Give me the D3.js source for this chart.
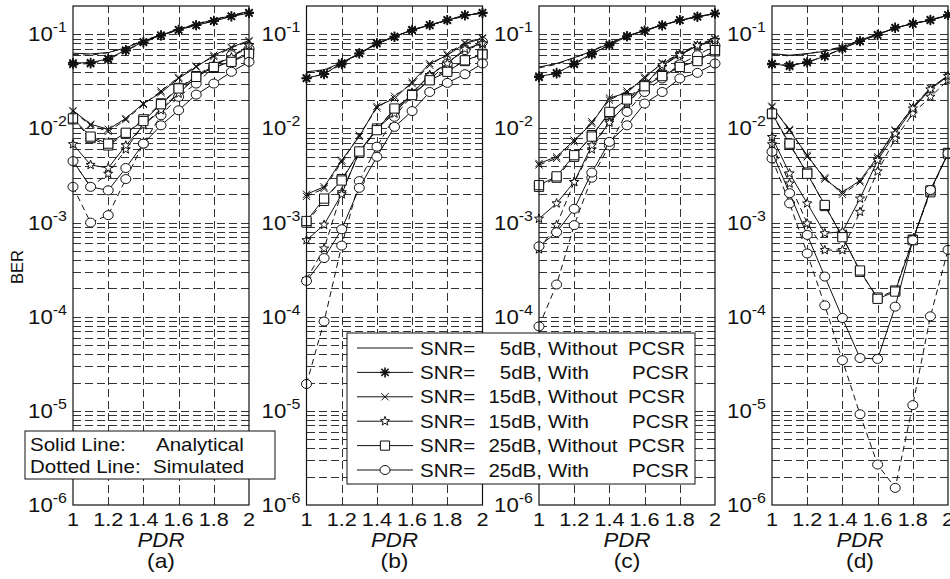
<!DOCTYPE html>
<html>
<head>
<meta charset="utf-8">
<script src="https://cdn.jsdelivr.net/npm/d3@7"></script>
<style>
  body { margin: 0; background: #fff; }
  svg { display: block; }
</style>
</head>
<body>
<svg id="chart" width="950" height="579"></svg>
<script>
// ---------- data ----------
const pdr = [1.0, 1.1, 1.2, 1.3, 1.4, 1.5, 1.6, 1.7, 1.8, 1.9, 2.0];
const xTickValues = [1, 1.2, 1.4, 1.6, 1.8, 2];
const xTickLabels = ["1", "1.2", "1.4", "1.6", "1.8", "2"];
const yDecades = [1e-6, 1e-5, 1e-4, 1e-3, 1e-2, 1e-1];
const yExponents = ["-6", "-5", "-4", "-3", "-2", "-1"];
const panelLabels = ["(a)", "(b)", "(c)", "(d)"];

// legend rows: SNR, PCSR state
const legendSnr = ["5dB,", "5dB,", "15dB,", "15dB,", "25dB,", "25dB,"];
const legendMode = ["Without", "With", "Without", "With", "Without", "With"];
const legendMarkers = ["none", "asterisk", "cross", "pentagram", "square", "circle"];

// series order in every panel: 5dB w/o, 5dB with, 15dB w/o, 15dB with, 25dB w/o, 25dB with
// panel (a) analytical
const a_ana_5_wo  = [0.063, 0.062, 0.064, 0.072, 0.085, 0.098, 0.113, 0.128, 0.143, 0.158, 0.175];
const a_ana_5_w   = [0.0497, 0.050, 0.055, 0.068, 0.083, 0.098, 0.112, 0.125, 0.138, 0.155, 0.168];
const a_ana_15_wo = [0.0155, 0.0111, 0.0098, 0.0128, 0.0184, 0.024, 0.034, 0.045, 0.060, 0.073, 0.086];
const a_ana_15_w  = [0.0068, 0.0041, 0.0038, 0.0066, 0.0108, 0.0156, 0.0235, 0.035, 0.047, 0.057, 0.076];
const a_ana_25_wo = [0.0128, 0.0082, 0.0069, 0.0090, 0.0120, 0.0181, 0.0266, 0.0353, 0.045, 0.051, 0.062];
const a_ana_25_w  = [0.0045, 0.0024, 0.0022, 0.0038, 0.0069, 0.0108, 0.0156, 0.0229, 0.030, 0.040, 0.051];
// panel (a) simulated
const a_sim_5_wo  = [0.061, 0.060, 0.064, 0.073, 0.086, 0.099, 0.114, 0.129, 0.144, 0.159, 0.176];
const a_sim_5_w   = [0.048, 0.049, 0.054, 0.067, 0.082, 0.097, 0.111, 0.125, 0.139, 0.156, 0.170];
const a_sim_15_wo = [0.0152, 0.0108, 0.0093, 0.0124, 0.018, 0.025, 0.035, 0.046, 0.058, 0.072, 0.084];
const a_sim_15_w  = [0.0045, 0.0024, 0.0033, 0.0060, 0.0110, 0.016, 0.024, 0.036, 0.048, 0.058, 0.077];
const a_sim_25_wo = [0.0125, 0.0079, 0.0066, 0.0088, 0.0125, 0.0185, 0.027, 0.036, 0.044, 0.052, 0.064];
const a_sim_25_w  = [0.0024, 0.0010, 0.0012, 0.0029, 0.0069, 0.0138, 0.0217, 0.030, 0.045, 0.060, 0.070];

// panel (b) analytical
const b_ana_5_wo  = [0.040, 0.042, 0.050, 0.063, 0.080, 0.094, 0.112, 0.125, 0.141, 0.159, 0.168];
const b_ana_5_w   = [0.0344, 0.0377, 0.0496, 0.0624, 0.0797, 0.0937, 0.112, 0.1246, 0.141, 0.159, 0.168];
const b_ana_15_wo = [0.0020, 0.0024, 0.0046, 0.0082, 0.0172, 0.0208, 0.0312, 0.049, 0.060, 0.080, 0.090];
const b_ana_15_w  = [0.00065, 0.00095, 0.0020, 0.0057, 0.010, 0.0144, 0.0235, 0.0367, 0.049, 0.070, 0.080];
const b_ana_25_wo = [0.00104, 0.0018, 0.0028, 0.0057, 0.0096, 0.0163, 0.0226, 0.0325, 0.040, 0.053, 0.061];
const b_ana_25_w  = [0.00024, 0.00042, 0.00085, 0.00234, 0.0050, 0.0104, 0.0153, 0.0244, 0.0305, 0.0377, 0.049];
// panel (b) simulated
const b_sim_5_wo  = [0.039, 0.041, 0.049, 0.062, 0.079, 0.095, 0.111, 0.126, 0.140, 0.157, 0.170];
const b_sim_5_w   = [0.034, 0.038, 0.048, 0.063, 0.081, 0.095, 0.110, 0.126, 0.142, 0.160, 0.170];
const b_sim_15_wo = [0.0019, 0.0023, 0.0044, 0.0085, 0.0165, 0.022, 0.030, 0.047, 0.062, 0.082, 0.092];
const b_sim_15_w  = [0.00025, 0.00053, 0.0021, 0.0055, 0.0098, 0.015, 0.024, 0.037, 0.050, 0.068, 0.079];
const b_sim_25_wo = [0.0010, 0.0017, 0.0029, 0.0055, 0.0100, 0.0160, 0.0230, 0.0330, 0.042, 0.052, 0.062];
const b_sim_25_w  = [1.93e-5, 8.9e-5, 0.00057, 0.00276, 0.0064, 0.0133, 0.0226, 0.033, 0.049, 0.068, 0.083];

// panel (c) analytical
const c_ana_5_wo  = [0.045, 0.049, 0.0566, 0.066, 0.080, 0.096, 0.110, 0.125, 0.141, 0.153, 0.166];
const c_ana_5_w   = [0.0359, 0.0383, 0.049, 0.0624, 0.0764, 0.095, 0.110, 0.125, 0.141, 0.153, 0.166];
const c_ana_15_wo = [0.00425, 0.0050, 0.0075, 0.0113, 0.0211, 0.0239, 0.0353, 0.049, 0.061, 0.076, 0.088];
const c_ana_15_w  = [0.0011, 0.0016, 0.0027, 0.0066, 0.0115, 0.0187, 0.0288, 0.047, 0.060, 0.076, 0.086];
const c_ana_25_wo = [0.0025, 0.0031, 0.0052, 0.0082, 0.015, 0.0203, 0.0281, 0.036, 0.045, 0.052, 0.068];
const c_ana_25_w  = [0.00056, 0.00079, 0.0014, 0.0034, 0.0072, 0.0108, 0.0184, 0.0244, 0.034, 0.039, 0.049];
// panel (c) simulated
const c_sim_5_wo  = [0.044, 0.048, 0.056, 0.067, 0.081, 0.095, 0.111, 0.126, 0.140, 0.154, 0.168];
const c_sim_5_w   = [0.035, 0.039, 0.048, 0.061, 0.078, 0.096, 0.109, 0.124, 0.142, 0.155, 0.167];
const c_sim_15_wo = [0.0041, 0.0048, 0.0072, 0.0118, 0.0200, 0.0250, 0.0340, 0.050, 0.062, 0.078, 0.090];
const c_sim_15_w  = [0.00052, 0.00094, 0.0027, 0.0060, 0.0120, 0.0180, 0.0290, 0.045, 0.062, 0.074, 0.087];
const c_sim_25_wo = [0.0024, 0.0030, 0.0050, 0.0085, 0.0145, 0.021, 0.029, 0.037, 0.046, 0.054, 0.066];
const c_sim_25_w  = [7.9e-5, 0.00022, 0.00094, 0.0030, 0.0066, 0.015, 0.0244, 0.034, 0.048, 0.060, 0.076];

// panel (d) analytical
const d_ana_5_wo  = [0.0624, 0.060, 0.0624, 0.066, 0.073, 0.087, 0.100, 0.117, 0.130, 0.141, 0.160];
const d_ana_5_w   = [0.0489, 0.0458, 0.0509, 0.0584, 0.0705, 0.0843, 0.099, 0.117, 0.130, 0.141, 0.160];
const d_ana_15_wo = [0.0172, 0.0095, 0.0052, 0.0029, 0.0021, 0.0028, 0.0050, 0.0096, 0.0167, 0.0266, 0.0367];
const d_ana_15_w  = [0.0081, 0.00333, 0.0016, 0.00077, 0.00080, 0.0018, 0.0046, 0.0088, 0.0163, 0.026, 0.036];
const d_ana_25_wo = [0.0144, 0.0069, 0.0033, 0.00154, 0.00070, 0.00031, 0.000155, 0.000185, 0.00065, 0.0022, 0.0054];
const d_ana_25_w  = [0.00565, 0.00205, 0.00074, 0.000267, 9.7e-5, 3.64e-5, 3.56e-5, 1.28e-4, 6.5e-4, 0.00222, 0.00543];
// panel (d) simulated
const d_sim_5_wo  = [0.061, 0.059, 0.062, 0.067, 0.074, 0.086, 0.101, 0.116, 0.131, 0.142, 0.158];
const d_sim_5_w   = [0.048, 0.047, 0.050, 0.059, 0.071, 0.085, 0.098, 0.118, 0.129, 0.143, 0.161];
const d_sim_15_wo = [0.0168, 0.0098, 0.0050, 0.0030, 0.0020, 0.0027, 0.0048, 0.0094, 0.0170, 0.0270, 0.0360];
const d_sim_15_w  = [0.0068, 0.0026, 0.00098, 0.00051, 0.00051, 0.0013, 0.0035, 0.0078, 0.0144, 0.0217, 0.0325];
const d_sim_25_wo = [0.0142, 0.0067, 0.0034, 0.0015, 0.00072, 0.00030, 0.00016, 0.00019, 0.00066, 0.0021, 0.0055];
const d_sim_25_w  = [0.0048, 0.0016, 0.00047, 0.000132, 3.45e-5, 9.2e-6, 2.69e-6, 1.52e-6, 1.15e-5, 1.01e-4, 0.000513];

const panels = [
  { label: panelLabels[0],
    ana: [a_ana_5_wo, a_ana_5_w, a_ana_15_wo, a_ana_15_w, a_ana_25_wo, a_ana_25_w],
    sim: [a_sim_5_wo, a_sim_5_w, a_sim_15_wo, a_sim_15_w, a_sim_25_wo, a_sim_25_w] },
  { label: panelLabels[1],
    ana: [b_ana_5_wo, b_ana_5_w, b_ana_15_wo, b_ana_15_w, b_ana_25_wo, b_ana_25_w],
    sim: [b_sim_5_wo, b_sim_5_w, b_sim_15_wo, b_sim_15_w, b_sim_25_wo, b_sim_25_w] },
  { label: panelLabels[2],
    ana: [c_ana_5_wo, c_ana_5_w, c_ana_15_wo, c_ana_15_w, c_ana_25_wo, c_ana_25_w],
    sim: [c_sim_5_wo, c_sim_5_w, c_sim_15_wo, c_sim_15_w, c_sim_25_wo, c_sim_25_w] },
  { label: panelLabels[3],
    ana: [d_ana_5_wo, d_ana_5_w, d_ana_15_wo, d_ana_15_w, d_ana_25_wo, d_ana_25_w],
    sim: [d_sim_5_wo, d_sim_5_w, d_sim_15_wo, d_sim_15_w, d_sim_25_wo, d_sim_25_w] }
];

// ---------- layout ----------
const FONT = "'Liberation Sans', Arial, Helvetica, sans-serif";
const SX = 1.14;                 // horizontal widening of the text
const panelLeft = [73, 306.5, 539, 772];
const panelW = 176;
const plotTop = 6, plotBottom = 505;

// series legend box (drawn over panels b and c)
const legendBox = { x: 347, y: 333, w: 348, h: 151 };

const svg = d3.select("#chart");
const y = d3.scaleLog().domain([1e-6, 0.2]).range([plotBottom, plotTop]);

// all log grid values (2..9 x each decade, plus decades) inside the range
const minorVals = [];
yDecades.forEach(dec => {
  for (let k = 1; k <= 9; k++) {
    const v = k * dec;
    if (v > 1e-6 * 1.0001 && v < 0.2 * 0.999) minorVals.push(v);
  }
});

function text(g, x, yy, str, size, anchor, italic) {
  return g.append("text")
    .attr("transform", `translate(${x},${yy}) scale(${SX},1)`)
    .attr("text-anchor", anchor || "start")
    .attr("font-family", FONT)
    .attr("font-size", size)
    .attr("font-style", italic ? "italic" : "normal")
    .attr("fill", "#111")
    .text(str);
}

function markerPath(kind) {
  if (kind === "asterisk") {
    const r = 5, q = r * 0.72;
    return `M${-r},0L${r},0M0,${-r}L0,${r}M${-q},${-q}L${q},${q}M${-q},${q}L${q},${-q}`;
  }
  if (kind === "cross") {
    const r = 3.6;
    return `M${-r},${-r}L${r},${r}M${-r},${r}L${r},${-r}`;
  }
  if (kind === "pentagram") {
    const R = 4.8, rIn = 2.0;
    let p = "";
    for (let i = 0; i < 10; i++) {
      const a = -Math.PI / 2 + i * Math.PI / 5;
      const rr = i % 2 === 0 ? R : rIn;
      p += (i === 0 ? "M" : "L") + (rr * Math.cos(a)).toFixed(2) + "," + (rr * Math.sin(a)).toFixed(2);
    }
    return p + "Z";
  }
  if (kind === "square") {
    const s = 4.6;
    return `M${-s},${-s}L${s},${-s}L${s},${s}L${-s},${s}Z`;
  }
  if (kind === "circle") {
    const rx = 5, ry = 4.5;
    return `M${-rx},0A${rx},${ry} 0 1,0 ${rx},0A${rx},${ry} 0 1,0 ${-rx},0Z`;
  }
  return null;
}

function drawMarker(g, kind, cx, cy) {
  const d = markerPath(kind);
  if (!d) return;
  const fillable = kind === "square" || kind === "circle" || kind === "pentagram";
  g.append("path")
    .attr("d", d)
    .attr("transform", `translate(${cx},${cy})`)
    .attr("fill", fillable ? "#fff" : "none")
    .attr("stroke", "#111")
    .attr("stroke-width", kind === "asterisk" ? 1.6 : 1);
}

function insideLegend(px, py) {
  return px > legendBox.x && px < legendBox.x + legendBox.w &&
         py > legendBox.y && py < legendBox.y + legendBox.h;
}

// ---------- panels ----------
panels.forEach((p, pi) => {
  const left = panelLeft[pi];
  const x = d3.scaleLinear().domain([1, 2]).range([left, left + panelW]);
  const g = svg.append("g");

  // horizontal log grid
  const hGrid = g.append("g")
    .attr("transform", `translate(${left},0)`)
    .call(d3.axisLeft(y).tickValues(minorVals).tickSize(-panelW).tickFormat(""));
  hGrid.select(".domain").remove();
  hGrid.selectAll(".tick line")
    .attr("stroke", "#333").attr("stroke-width", 1).attr("stroke-dasharray", "8,4")
    .attr("shape-rendering", "crispEdges");

  // vertical grid
  const vGrid = g.append("g")
    .attr("transform", `translate(0,${plotBottom})`)
    .call(d3.axisBottom(x).tickValues(xTickValues.slice(1, -1)).tickSize(-(plotBottom - plotTop)).tickFormat(""));
  vGrid.select(".domain").remove();
  vGrid.selectAll(".tick line")
    .attr("stroke", "#333").attr("stroke-width", 1).attr("stroke-dasharray", "8,4")
    .attr("shape-rendering", "crispEdges");

  const line = d3.line().x((d, i) => x(pdr[i])).y(d => y(d));

  // simulated (dashed) then analytical (solid), each with its markers
  [["sim", "6,4"], ["ana", null]].forEach(([key, dash]) => {
    p[key].forEach((vals, si) => {
      g.append("path")
        .attr("d", line(vals))
        .attr("fill", "none")
        .attr("stroke", "#111")
        .attr("stroke-width", 1)
        .attr("stroke-dasharray", dash);
      vals.forEach((v, i) => drawMarker(g, legendMarkers[si], x(pdr[i]), y(v)));
    });
  });

  // axes box
  g.append("rect")
    .attr("x", left).attr("y", plotTop)
    .attr("width", panelW).attr("height", plotBottom - plotTop)
    .attr("fill", "none").attr("stroke", "#111").attr("stroke-width", 1.2);

  // y labels 10^n (those under the series legend stay hidden)
  yDecades.forEach((dv, i) => {
    const lx = left - 6, ly = y(dv) + 7;
    if (insideLegend(lx - 10, ly - 6)) return;
    const t = g.append("text")
      .attr("transform", `translate(${lx},${ly}) scale(${SX},1)`)
      .attr("text-anchor", "end")
      .attr("font-family", FONT)
      .attr("fill", "#111");
    t.append("tspan").attr("font-size", 19.5).text("10");
    t.append("tspan").attr("font-size", 14).attr("dy", -9).text(yExponents[i]);
  });

  // x tick labels
  xTickValues.forEach((v, i) => text(g, x(v), 526, xTickLabels[i], 19, "middle"));
  text(g, left + panelW / 2, 547, "PDR", 19.5, "middle", true);
  text(g, left + panelW / 2, 568, p.label, 20, "middle");
});

// y-axis title
svg.append("text")
  .attr("transform", "translate(23,267) rotate(-90)")
  .attr("text-anchor", "middle")
  .attr("font-family", FONT)
  .attr("font-size", 16.5)
  .attr("fill", "#111")
  .text("BER");

// ---------- line-style legend ----------
const lg1 = svg.append("g");
lg1.append("rect").attr("x", 25).attr("y", 431).attr("width", 250).attr("height", 48)
  .attr("fill", "#fff").attr("stroke", "#111").attr("stroke-width", 1);
text(lg1, 30, 451, "Solid Line:", 18, "start");
text(lg1, 156, 451, "Analytical", 18, "start");
text(lg1, 30, 473, "Dotted Line:", 18, "start");
text(lg1, 153, 473, "Simulated", 18, "start");

// ---------- series legend ----------
const lg2 = svg.append("g");
lg2.append("rect").attr("x", legendBox.x).attr("y", legendBox.y)
  .attr("width", legendBox.w).attr("height", legendBox.h)
  .attr("fill", "#fff").attr("stroke", "#111").attr("stroke-width", 1);
const rowY = d3.scalePoint().domain(d3.range(6)).range([348, 470]);
legendSnr.forEach((snr, i) => {
  const cy = rowY(i);
  lg2.append("line").attr("x1", 357).attr("x2", 413).attr("y1", cy).attr("y2", cy)
    .attr("stroke", "#111").attr("stroke-width", 1);
  drawMarker(lg2, legendMarkers[i], 385, cy);
  text(lg2, 420, cy + 6.5, "SNR=", 18, "start");
  text(lg2, 542, cy + 6.5, snr, 18, "end");
  text(lg2, 548, cy + 6.5, legendMode[i], 18, "start");
  text(lg2, legendMode[i] === "With" ? 632 : 628, cy + 6.5, "PCSR", 18, "start");
});
</script>
</body>
</html>
